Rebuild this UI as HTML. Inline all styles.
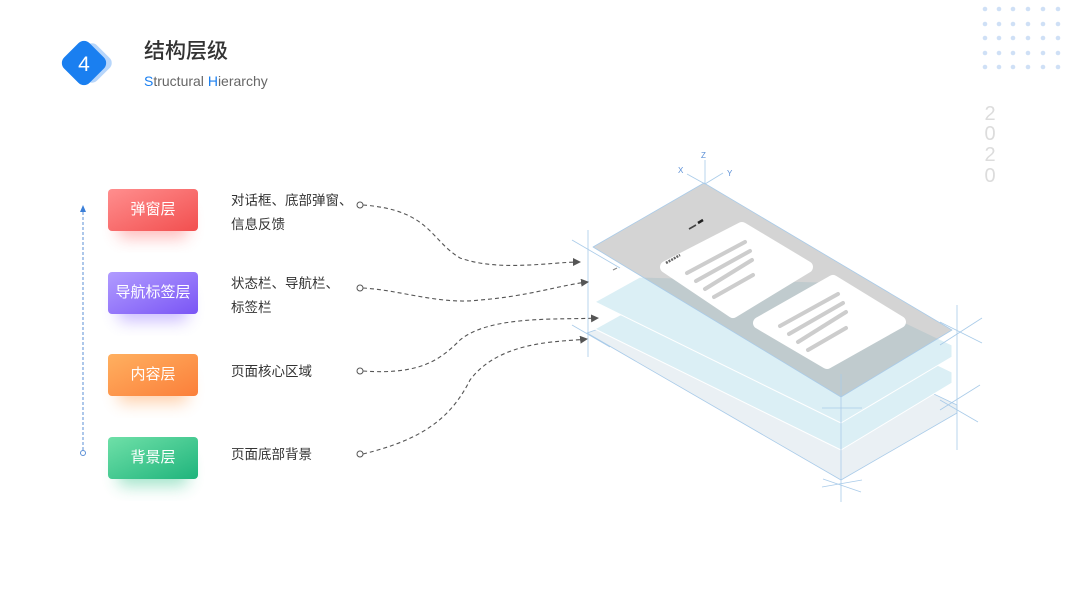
<!DOCTYPE html>
<html><head><meta charset="utf-8"><style>
body{margin:0;width:1067px;height:600px;background:#fff;overflow:hidden;font-family:"Liberation Sans","Noto Sans CJK SC",sans-serif;position:relative}
.abs{position:absolute}
.btn{position:absolute;left:108px;width:90px;height:42px;border-radius:4px;color:#fff;font-size:15px;line-height:42px;text-align:center}
.lbl{position:absolute;left:231px;font-size:13.5px;color:#333;line-height:24px}
</style></head><body>
<svg class="abs" style="left:0;top:0" width="1067" height="600">
<defs>
<linearGradient id="g1" x1="0" y1="0" x2="1" y2="1"><stop offset="0" stop-color="#ff8e8e"/><stop offset="1" stop-color="#f24f4f"/></linearGradient>
<linearGradient id="g2" x1="0" y1="0" x2="1" y2="1"><stop offset="0" stop-color="#b19cff"/><stop offset="1" stop-color="#7a55f5"/></linearGradient>
<linearGradient id="g3" x1="0" y1="0" x2="1" y2="1"><stop offset="0" stop-color="#ffb060"/><stop offset="1" stop-color="#fb7f3a"/></linearGradient>
<linearGradient id="g4" x1="0" y1="0" x2="1" y2="1"><stop offset="0" stop-color="#6fe0a8"/><stop offset="1" stop-color="#1fb47c"/></linearGradient>
<filter id="bl" x="-50%" y="-50%" width="200%" height="200%"><feGaussianBlur stdDeviation="8"/></filter>
<marker id="ar" markerWidth="8" markerHeight="8" refX="7" refY="4" orient="auto" markerUnits="userSpaceOnUse"><path d="M0,0 L8,4 L0,8 Z" fill="#555"/></marker>
</defs>
<rect x="76" y="47" width="32" height="32" rx="7" fill="#b7d6fb" transform="rotate(45 92 63)"/>
<rect x="66" y="45" width="36" height="36" rx="8" fill="#1a7ff0" transform="rotate(45 84 63)"/>
<text x="84" y="71" font-size="21" fill="#fff" text-anchor="middle" font-family="Liberation Sans">4</text>
<g fill="#cfe0f6">
<circle cx="985" cy="9" r="2.3"/><circle cx="999" cy="9" r="2.3"/><circle cx="1013" cy="9" r="2.3"/><circle cx="1028" cy="9" r="2.3"/><circle cx="1043" cy="9" r="2.3"/><circle cx="1058" cy="9" r="2.3"/>
<circle cx="985" cy="24" r="2.3"/><circle cx="999" cy="24" r="2.3"/><circle cx="1013" cy="24" r="2.3"/><circle cx="1028" cy="24" r="2.3"/><circle cx="1043" cy="24" r="2.3"/><circle cx="1058" cy="24" r="2.3"/>
<circle cx="985" cy="38" r="2.3"/><circle cx="999" cy="38" r="2.3"/><circle cx="1013" cy="38" r="2.3"/><circle cx="1028" cy="38" r="2.3"/><circle cx="1043" cy="38" r="2.3"/><circle cx="1058" cy="38" r="2.3"/>
<circle cx="985" cy="53" r="2.3"/><circle cx="999" cy="53" r="2.3"/><circle cx="1013" cy="53" r="2.3"/><circle cx="1028" cy="53" r="2.3"/><circle cx="1043" cy="53" r="2.3"/><circle cx="1058" cy="53" r="2.3"/>
<circle cx="985" cy="67" r="2.3"/><circle cx="999" cy="67" r="2.3"/><circle cx="1013" cy="67" r="2.3"/><circle cx="1028" cy="67" r="2.3"/><circle cx="1043" cy="67" r="2.3"/><circle cx="1058" cy="67" r="2.3"/>
</g>
<g font-size="20" fill="#dcdcdc" text-anchor="middle" font-family="Liberation Sans">
<text x="990" y="120">2</text><text x="990" y="140">0</text><text x="990" y="161">2</text><text x="990" y="182">0</text>
</g>
<line x1="83" y1="212" x2="83" y2="450" stroke="#5b8fd6" stroke-width="1" stroke-dasharray="3,2"/>
<path d="M80,212 L83,205 L86,212Z" fill="#3b7fd8"/>
<circle cx="83" cy="453" r="2.5" fill="#fff" stroke="#5b8fd6"/>
<rect x="118" y="208" width="70" height="30" rx="6" fill="#ff6b6b" opacity=".45" filter="url(#bl)"/>
<rect x="118" y="291" width="70" height="30" rx="6" fill="#8b6bff" opacity=".45" filter="url(#bl)"/>
<rect x="118" y="373" width="70" height="30" rx="6" fill="#ff9a4a" opacity=".45" filter="url(#bl)"/>
<rect x="118" y="456" width="70" height="30" rx="6" fill="#30c48a" opacity=".45" filter="url(#bl)"/>
<rect x="108" y="189" width="90" height="42" rx="4" fill="url(#g1)"/>
<rect x="108" y="272" width="90" height="42" rx="4" fill="url(#g2)"/>
<rect x="108" y="354" width="90" height="42" rx="4" fill="url(#g3)"/>
<rect x="108" y="437" width="90" height="42" rx="4" fill="url(#g4)"/>
<!-- iso layers -->
<g stroke-linejoin="round">
<polygon points="587,333 630,318 820,340 957,405 957,413 841,480" fill="#eaf0f4" stroke="#a9cbe9" stroke-width="0.8"/>
<polygon points="595,329 640,304 820,309 952,372 952,383 841,450" fill="#dbeff5" stroke="#fff" stroke-width="1"/>
<polygon points="595,302 640,277 820,282 952,345 952,357 841,423" fill="#dbeff5" stroke="#fff" stroke-width="1"/>
<polygon points="704,183 952,330 841,397 593,247" fill="rgb(160,160,160)" fill-opacity=".45" stroke="#a9cbe9" stroke-width="0.8"/>
</g>
<polygon points="742,228 807,267 733,312 666,267" fill="#fff" stroke="#fff" stroke-width="12" stroke-linejoin="round"/>
<polygon points="833,281 900,322 827,363 759,323" fill="#fff" stroke="#fff" stroke-width="12" stroke-linejoin="round"/>
<g stroke="#cdcdcd" stroke-width="4" stroke-linecap="round">
<line x1="687" y1="273" x2="745" y2="242"/><line x1="696" y1="281" x2="750" y2="251"/><line x1="705" y1="289" x2="752" y2="260"/><line x1="714" y1="297" x2="753" y2="275"/>
<line x1="780" y1="326" x2="838" y2="294"/><line x1="789" y1="334" x2="843" y2="303"/><line x1="798" y1="342" x2="846" y2="312"/><line x1="808" y1="350" x2="846" y2="328"/>
</g>
<path d="M689,229 L696,225" stroke="#444" stroke-width="1.6"/><path d="M698,223 L703,220" stroke="#222" stroke-width="2.5"/>
<path d="M666,263 L680,255" stroke="#666" stroke-width="2.5" stroke-dasharray="2,1"/>
<path d="M613,270 L617,268" stroke="#888" stroke-width="1.2"/>
<g stroke="#a9cbe9" stroke-width="0.8">
<line x1="588" y1="230" x2="588" y2="357"/>
<line x1="572" y1="240" x2="620" y2="268"/>
<line x1="572" y1="325" x2="610" y2="347"/>
<line x1="957" y1="305" x2="957" y2="450"/>
<line x1="940" y1="345" x2="982" y2="318"/><line x1="940" y1="322" x2="982" y2="343"/>
<line x1="940" y1="410" x2="980" y2="385"/><line x1="940" y1="400" x2="978" y2="422"/>
<line x1="841" y1="374" x2="841" y2="502"/>
<line x1="822" y1="408" x2="862" y2="408"/>
<line x1="822" y1="487" x2="862" y2="480"/><line x1="823" y1="479" x2="861" y2="492"/>
<line x1="705" y1="160" x2="705" y2="184"/>
<line x1="687" y1="174" x2="705" y2="184"/><line x1="705" y1="184" x2="723" y2="173"/>
</g>
<g font-size="8" fill="#5b8fd6" font-family="Liberation Sans"><text x="701" y="158">Z</text><text x="678" y="173">X</text><text x="727" y="176">Y</text></g>
<g fill="none" stroke="#555" stroke-width="1.1" stroke-dasharray="4,3" marker-end="url(#ar)">
<path d="M363,205 C430,210 430,240 460,258 C500,272 550,262 580,262"/>
<path d="M363,288 C400,290 440,305 480,300 C530,296 560,285 588,282"/>
<path d="M363,371 C420,375 440,360 460,340 C490,315 560,320 598,318"/>
<path d="M363,454 C420,440 450,420 470,380 C500,340 560,342 587,339"/>
</g>
<g fill="#fff" stroke="#555" stroke-width="1"><circle cx="360" cy="205" r="3"/><circle cx="360" cy="288" r="3"/><circle cx="360" cy="371" r="3"/><circle cx="360" cy="454" r="3"/></g>
</svg>
<div class="abs" style="left:144px;top:35px;font-size:21px;color:#333;font-weight:500">结构层级</div>
<div class="abs" style="left:144px;top:73px;font-size:14px;color:#666"><span style="color:#1a7ff0">S</span>tructural <span style="color:#1a7ff0">H</span>ierarchy</div>
<div class="btn" style="top:189px">弹窗层</div>
<div class="btn" style="top:272px">导航标签层</div>
<div class="btn" style="top:354px">内容层</div>
<div class="btn" style="top:437px">背景层</div>
<div class="lbl" style="top:189px">对话框、底部弹窗、<br>信息反馈</div>
<div class="lbl" style="top:272px">状态栏、导航栏、<br>标签栏</div>
<div class="lbl" style="top:360px">页面核心区域</div>
<div class="lbl" style="top:443px">页面底部背景</div>
</body></html>
